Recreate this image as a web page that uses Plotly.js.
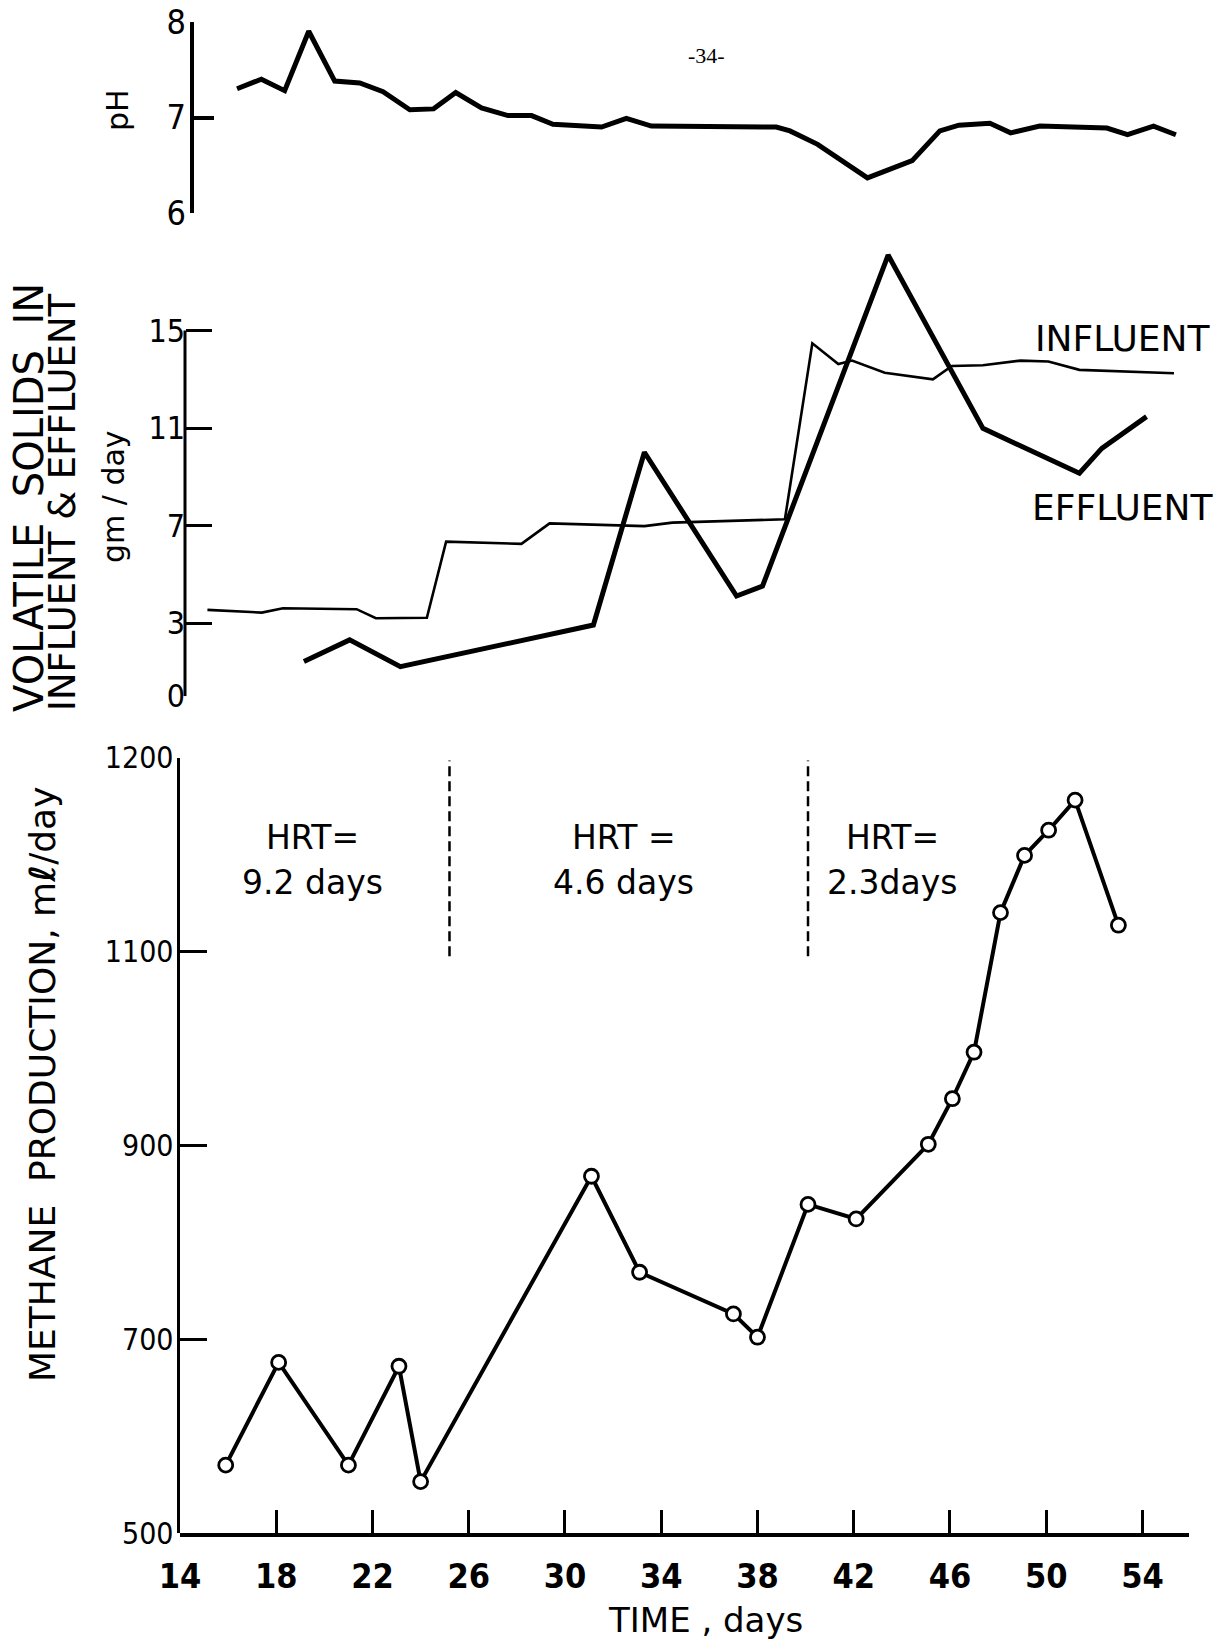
<!DOCTYPE html>
<html>
<head>
<meta charset="utf-8">
<script src="https://cdn.plot.ly/plotly-3.0.1.min.js"></script>
<style>html,body{margin:0;padding:0;background:#fff;}#chart{width:1220px;height:1646px;}</style>
</head>
<body>
<div id="chart"></div>
<script>
// ---------------- data ----------------
const phDays = [16.37,17.38,18.35,19.35,20.43,21.47,22.44,23.55,24.54,25.46,26.53,27.63,28.61,29.50,31.52,32.55,33.59,38.78,39.35,40.50,42.57,44.43,45.58,46.37,47.66,48.52,49.73,52.52,53.38,54.46,55.39];
const phValues = [7.30,7.40,7.28,7.90,7.38,7.36,7.27,7.08,7.09,7.26,7.10,7.02,7.02,6.93,6.90,6.99,6.91,6.90,6.86,6.72,6.37,6.55,6.86,6.92,6.94,6.84,6.91,6.89,6.82,6.91,6.82];

const influentDays = [15.14,17.40,18.28,21.34,22.14,24.26,25.06,28.19,29.36,33.30,34.46,39.14,40.28,41.36,41.93,43.29,45.29,46.08,47.37,48.94,50.09,51.38,55.31];
const influentValues = [3.54,3.43,3.61,3.57,3.20,3.22,6.34,6.25,7.09,6.98,7.12,7.26,14.48,13.63,13.77,13.27,13.00,13.55,13.58,13.77,13.73,13.39,13.25];

const effluentDays = [19.15,21.05,23.16,31.18,33.30,37.13,38.21,43.43,47.37,51.38,52.31,54.17];
const effluentValues = [1.42,2.31,1.21,2.92,10.01,4.11,4.52,18.10,10.99,9.15,10.17,11.47];

const methaneDays = [15.9,18.1,21.0,23.1,24.0,31.1,33.1,37.0,38.0,40.1,42.1,45.1,46.1,47.0,48.1,49.1,50.1,51.2,53.0];
const methaneValues = [570,676,570,672,553,868,769,726,702,839,824,901,948,996,1140,1199,1225,1256,1127];

const xTickVals = [14,18,22,26,30,34,38,42,46,50,54];
const xTickText = ['14','18','22','26','30','34','38','42','46','50','54'];
const phTickVals = [6,7,8];
const phTickText = ['6','7','8'];
const vsTickVals = [0,3,7,11,15];
const vsTickText = ['0','3','7','11','15'];
const methTickVals = [500,700,900,1100,1300];
const methTickText = ['500','700','900','1100','1200'];

const vsAxisSpan = [0, 15];
const hrtBoundaryDays = [25.2, 40.1];
const hrtBoundarySpan = [1095, 1297];
const hrtLabelDays = [19.5, 32.45, 43.6];
const hrtLine1 = ['HRT=', 'HRT =', 'HRT='];
const hrtLine2 = ['9.2 days', '4.6 days', '2.3days'];

// ---------------- layout helpers ----------------
const W = 1220, H = 1646;
const px = v => v / W;
const py = v => 1 - v / H;
const TICKFONT = "'DejaVu Sans Condensed', 'Liberation Sans Narrow', 'Liberation Sans', sans-serif";
const LABELFONT = "'DejaVu Sans', 'Noto Sans', sans-serif";

const traces = [
  {x: phDays, y: phValues, xaxis: 'x', yaxis: 'y', mode: 'lines',
   line: {color: '#000', width: 5}, hoverinfo: 'skip'},
  {x: influentDays, y: influentValues, xaxis: 'x', yaxis: 'y2', mode: 'lines',
   line: {color: '#000', width: 2.6}, hoverinfo: 'skip'},
  {x: effluentDays, y: effluentValues, xaxis: 'x', yaxis: 'y2', mode: 'lines',
   line: {color: '#000', width: 5}, hoverinfo: 'skip'},
  {x: methaneDays, y: methaneValues, xaxis: 'x', yaxis: 'y3', mode: 'lines+markers',
   line: {color: '#000', width: 4},
   marker: {symbol: 'circle', size: 14, color: '#fff', line: {color: '#000', width: 2.8}},
   cliponaxis: false, hoverinfo: 'skip'}
];

const shapes = [
  {type: 'line', xref: 'paper', yref: 'y2', x0: px(185), x1: px(185),
   y0: vsAxisSpan[0], y1: vsAxisSpan[1], line: {color: '#000', width: 3}}
];
hrtBoundaryDays.forEach(d => shapes.push({
  type: 'line', xref: 'x', yref: 'y3', x0: d, x1: d,
  y0: hrtBoundarySpan[0], y1: hrtBoundarySpan[1],
  line: {color: '#000', width: 2.5, dash: '10px,5px'}
}));

function note(text, x, y, size, opts) {
  return Object.assign({
    text: text, x: px(x), y: py(y), xref: 'paper', yref: 'paper',
    xanchor: 'center', yanchor: 'middle', showarrow: false,
    font: {family: LABELFONT, size: size, color: '#000'}
  }, opts || {});
}

const annotations = [
  note('-34-', 706, 55, 22, {font: {family: "'Liberation Serif', 'DejaVu Serif', serif", size: 22, color: '#000'}}),
  note('pH', 117, 110, 30, {textangle: -90}),
  note('VOLATILE  SOLIDS  IN', 29, 498, 40, {textangle: -90}),
  note('INFLUENT & EFFLUENT', 62, 502, 37, {textangle: -90}),
  note('gm / day', 113, 497, 30, {textangle: -90}),
  note('METHANE  PRODUCTION, m<b>ℓ</b>/day', 42, 1084, 36, {textangle: -90}),
  note('TIME , days', 705, 1620, 34),
  note('INFLUENT', 1123, 338, 36),
  note('EFFLUENT', 1122, 508, 36)
];
hrtLabelDays.forEach((d, i) => {
  annotations.push({text: hrtLine1[i], x: d, y: py(837), xref: 'x', yref: 'paper',
    xanchor: 'center', yanchor: 'middle', showarrow: false,
    font: {family: LABELFONT, size: 33, color: '#000'}});
  annotations.push({text: hrtLine2[i], x: d, y: py(882), xref: 'x', yref: 'paper',
    xanchor: 'center', yanchor: 'middle', showarrow: false,
    font: {family: LABELFONT, size: 33, color: '#000'}});
});

const layout = {
  width: W, height: H,
  margin: {l: 0, r: 0, t: 0, b: 0},
  paper_bgcolor: '#fff', plot_bgcolor: 'rgba(0,0,0,0)',
  showlegend: false,
  font: {family: TICKFONT, color: '#000'},
  xaxis: {
    domain: [px(180), px(1188.9)], range: [14, 55.93], anchor: 'y3',
    showline: true, linewidth: 4, linecolor: '#000',
    ticks: 'inside', ticklen: 23, tickwidth: 3, tickcolor: '#000',
    tickmode: 'array', tickvals: xTickVals, ticktext: xTickText,
    tickfont: {family: TICKFONT, size: 34, color: '#000', weight: 'bold'},
    ticklabelstandoff: 10,
    showgrid: false, zeroline: false, fixedrange: true
  },
  yaxis: {
    domain: [py(213.3), py(21.7)], range: [6, 8], anchor: 'free', position: px(191.7),
    showline: true, linewidth: 4, linecolor: '#000',
    ticks: 'inside', ticklen: 20, tickwidth: 4, tickcolor: '#000',
    tickmode: 'array', tickvals: phTickVals, ticktext: phTickText,
    tickfont: {family: TICKFONT, size: 34, color: '#000'},
    ticklabelstandoff: -3,
    showgrid: false, zeroline: false, fixedrange: true
  },
  yaxis2: {
    domain: [py(696.2), py(248)], range: [0, 18.39], anchor: 'free', position: px(185),
    showline: false,
    ticks: 'inside', ticklen: 26, tickwidth: 3, tickcolor: '#000',
    tickmode: 'array', tickvals: vsTickVals, ticktext: vsTickText,
    tickfont: {family: TICKFONT, size: 32, color: '#000'},
    ticklabelstandoff: 0,
    showgrid: false, zeroline: false, fixedrange: true
  },
  yaxis3: {
    domain: [py(1533), py(757.5)], range: [500, 1300], anchor: 'free', position: px(177.5),
    showline: true, linewidth: 3, linecolor: '#000',
    ticks: 'inside', ticklen: 27, tickwidth: 3, tickcolor: '#000',
    tickmode: 'array', tickvals: methTickVals, ticktext: methTickText,
    tickfont: {family: TICKFONT, size: 30, color: '#000'},
    ticklabelstandoff: -3,
    showgrid: false, zeroline: false, fixedrange: true
  },
  shapes: shapes,
  annotations: annotations
};

Plotly.newPlot('chart', traces, layout, {staticPlot: true, displayModeBar: false});
</script>
</body>
</html>
